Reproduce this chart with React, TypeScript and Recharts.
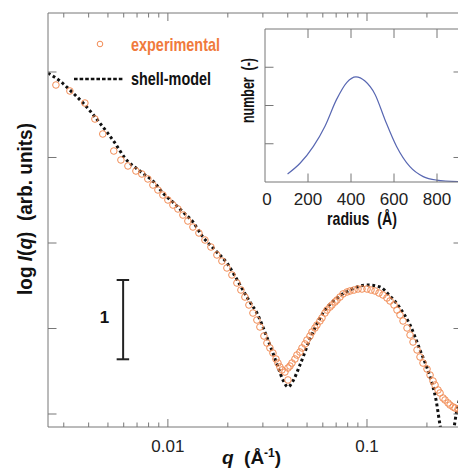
import React from "react";
import {
  ComposedChart,
  LineChart,
  Line,
  Scatter,
  XAxis,
  YAxis,
  ReferenceLine,
} from "recharts";

// ---------- data ----------
const expQ = [
  0.00274, 0.00322, 0.00383, 0.0043, 0.00471, 0.00535, 0.00581, 0.0063, 0.00691, 0.0074,
  0.00793, 0.00841, 0.00891, 0.00944, 0.01, 0.0106, 0.01123, 0.0119, 0.0126, 0.01336,
  0.01432, 0.01535, 0.01645, 0.01763, 0.01868, 0.01979, 0.02097, 0.02222, 0.02327, 0.02437,
  0.02553, 0.02674, 0.028, 0.02899, 0.03037, 0.03144, 0.03255, 0.0337, 0.03489, 0.03571,
  0.03654, 0.0374, 0.03872, 0.04009,
  0.04009, 0.04103, 0.04199, 0.04347, 0.04448, 0.04605, 0.04714, 0.0488, 0.04995, 0.05171,
  0.05292, 0.05479, 0.05606, 0.05805, 0.0594, 0.0615, 0.06295, 0.06517, 0.06669, 0.06905,
  0.07066, 0.07316, 0.07574, 0.07933, 0.08213, 0.08602, 0.0901, 0.09437, 0.1, 0.1047,
  0.1097, 0.1149, 0.1203, 0.126, 0.1305, 0.1367, 0.1415, 0.1465, 0.1517, 0.1589,
  0.1645, 0.1703, 0.1784, 0.1846, 0.1911, 0.2002, 0.2073, 0.2146, 0.2196, 0.2274,
  0.2327, 0.2409, 0.2466, 0.2553, 0.2613, 0.2705, 0.2768, 0.2866, 0.2968,
];
const expLogI = [
  3.848, 3.778, 3.637, 3.45, 3.275, 3.076, 2.971, 2.901, 2.842, 2.807,
  2.749, 2.678, 2.62, 2.561, 2.503, 2.444, 2.398, 2.327, 2.257, 2.187,
  2.117, 2.035, 1.953, 1.86, 1.789, 1.708, 1.626, 1.532, 1.45, 1.368,
  1.275, 1.181, 1.099, 1.018, 0.912, 0.83, 0.772, 0.713, 0.643, 0.596,
  0.55, 0.515, 0.491, 0.398,
  0.538, 0.561, 0.596, 0.643, 0.69, 0.725, 0.772, 0.819, 0.865, 0.912,
  0.959, 1.006, 1.041, 1.088, 1.123, 1.181, 1.216, 1.251, 1.275, 1.31,
  1.333, 1.368, 1.404, 1.427, 1.439, 1.45, 1.462, 1.462, 1.462, 1.45,
  1.439, 1.415, 1.392, 1.357, 1.322, 1.275, 1.216, 1.158, 1.088, 1.006,
  0.924, 0.842, 0.749, 0.667, 0.596, 0.526, 0.456, 0.386, 0.339, 0.281,
  0.246, 0.187, 0.164, 0.129, 0.105, 0.082, 0.07, 0.058, 0.047,
];

const modelQ = [
  0.0025, 0.00287, 0.00322, 0.00383, 0.00455, 0.00542, 0.00608, 0.00723, 0.0086, 0.00944,
  0.01084, 0.0119, 0.01336, 0.015, 0.01723, 0.01979, 0.02171, 0.02382, 0.02583, 0.028,
  0.03002, 0.03181, 0.0337, 0.03571, 0.03784, 0.04009, 0.04247, 0.04605, 0.05171, 0.0601,
  0.07066, 0.08213, 0.1, 0.1162, 0.1305, 0.1465, 0.1645, 0.1846, 0.2073, 0.2222,
  0.2327, 0.2495, 0.2674, 0.28, 0.3,
];
const modelLogI = [
  3.988, 3.895, 3.789, 3.614, 3.404, 3.17, 2.994, 2.842, 2.702, 2.585,
  2.456, 2.363, 2.246, 2.07, 1.918, 1.766, 1.614, 1.45, 1.31, 1.181,
  1.018, 0.865, 0.713, 0.55, 0.398, 0.316, 0.386, 0.573, 0.877, 1.181,
  1.357, 1.45, 1.509, 1.485, 1.38, 1.24, 1.041, 0.749, 0.433, 0.164,
  -0.129, -0.48, -0.304, -0.012, 0.281,
];

const qTicks = [
  0.003, 0.004, 0.005, 0.006, 0.007, 0.008, 0.009, 0.01,
  0.02, 0.03, 0.04, 0.05, 0.06, 0.07, 0.08, 0.09, 0.1, 0.2,
];
const qLabels = [0.01, 0.1];
const yTicks = [0, 1, 2, 3, 4];

const radius = [105, 163, 225, 279, 333, 380, 423, 465, 512, 558, 612, 674, 736, 798, 898, 1000];
const number = [0.21, 0.49, 0.93, 1.46, 2.16, 2.6, 2.75, 2.64, 2.29, 1.63, 0.93, 0.4, 0.14, 0.05, 0.01, 0.0];
const rTicks = [0, 200, 400, 600, 800];
const nTicks = [1, 2, 3];

// scale bar (one unit on the log I axis)
const barQ = 0.00596;
const barCapQ = [0.00553, 0.00639];
const barRange = [0.64, 1.567];

const expData = expQ.map((q, i) => ({ q, v: expLogI[i] }));
const modelData = modelQ.map((q, i) => ({ q, v: modelLogI[i] }));
const insetData = radius.map((r, i) => ({ r, n: number[i] }));

// ---------- styles ----------
const AXIS = "#777";
const ORANGE = "#f28c55";
const ORANGE_TXT = "#f07a3c";
const BLUE = "#5867b2";
const FONT = "'Liberation Sans', Arial, Helvetica, sans-serif";

const isMajor = (v: number) => qLabels.some((m) => Math.abs(m - v) < 1e-9);

const BottomTick = (p: any) => {
  const major = isMajor(p.payload.value);
  return (
    <g>
      <line x1={p.x} x2={p.x} y1={p.y} y2={p.y - (major ? 8 : 4.5)} stroke={AXIS} strokeWidth={1} />
      {major && (
        <text x={p.x} y={p.y + 25} textAnchor="middle" fontFamily={FONT} fontSize={17} fill="#222">
          {p.payload.value}
        </text>
      )}
    </g>
  );
};
const TopTick = (p: any) => {
  const major = isMajor(p.payload.value);
  return <line x1={p.x} x2={p.x} y1={p.y} y2={p.y + (major ? 8 : 4.5)} stroke={AXIS} strokeWidth={1} />;
};
const LeftTick = (p: any) => (
  <line x1={p.x} x2={p.x + 8.5} y1={p.y} y2={p.y} stroke={AXIS} strokeWidth={1} />
);
const RightTick = (p: any) => (
  <line x1={p.x} x2={p.x - 8.5} y1={p.y} y2={p.y} stroke={AXIS} strokeWidth={1} />
);

const InsetBottomTick = (p: any) => (
  <g>
    {p.payload.value !== 0 && (
      <line x1={p.x} x2={p.x} y1={p.y} y2={p.y - 8.5} stroke={AXIS} strokeWidth={1} />
    )}
    <text x={p.x + (p.payload.value === 0 ? 2 : 0)} y={p.y + 23} textAnchor="middle" fontFamily={FONT} fontSize={17} fill="#222">
      {p.payload.value}
    </text>
  </g>
);
const InsetTopTick = (p: any) =>
  p.payload.value === 0 ? <g /> : <line x1={p.x} x2={p.x} y1={p.y} y2={p.y + 9} stroke={AXIS} strokeWidth={1} />;
const InsetLeftTick = (p: any) => (
  <line x1={p.x} x2={p.x + 8.5} y1={p.y} y2={p.y} stroke={AXIS} strokeWidth={1} />
);

const Circle = (p: any) =>
  p.cx == null ? <g /> : <circle cx={p.cx} cy={p.cy} r={3.3} fill="none" stroke={ORANGE} strokeWidth={1} />;

export default function App() {
  return (
    <div
      style={{
        position: "fixed",
        left: 0,
        top: 0,
        width: 458,
        height: 475,
        overflow: "hidden",
        background: "#fff",
      }}
    >
      <div style={{ position: "absolute", left: 0, top: 0 }}>
        <ComposedChart width={470} height={475} margin={{ top: 0, right: 0, bottom: 0, left: 0 }}>
          <XAxis
            xAxisId="b"
            dataKey="q"
            type="number"
            scale="log"
            domain={[0.0025, 0.3]}
            allowDataOverflow
            ticks={qTicks}
            orientation="bottom"
            height={48}
            tickSize={0}
            tickMargin={0}
            tickLine={false}
            axisLine={{ stroke: AXIS }}
            tick={BottomTick}
            interval={0}
          />
          <XAxis
            xAxisId="t"
            dataKey="q"
            type="number"
            scale="log"
            domain={[0.0025, 0.3]}
            allowDataOverflow
            ticks={qTicks}
            orientation="top"
            height={13}
            tickSize={0}
            tickMargin={0}
            tickLine={false}
            axisLine={{ stroke: AXIS }}
            tick={TopTick}
            interval={0}
          />
          <YAxis
            yAxisId="l"
            dataKey="v"
            type="number"
            domain={[-0.152, 4.69]}
            allowDataOverflow
            ticks={yTicks}
            width={48}
            tickSize={0}
            tickMargin={0}
            tickLine={false}
            axisLine={{ stroke: AXIS }}
            tick={LeftTick}
            interval={0}
          />
          <YAxis
            yAxisId="r"
            dataKey="v"
            orientation="right"
            type="number"
            domain={[-0.152, 4.69]}
            allowDataOverflow
            ticks={yTicks}
            width={8}
            tickSize={0}
            tickMargin={0}
            tickLine={false}
            axisLine={{ stroke: AXIS }}
            tick={RightTick}
            interval={0}
          />
          <Scatter
            xAxisId="b"
            yAxisId="l"
            data={expData}
            dataKey="v"
            shape={Circle}
            isAnimationActive={false}
          />
          <Line
            xAxisId="b"
            yAxisId="l"
            data={modelData}
            dataKey="v"
            type="monotone"
            stroke="#111"
            strokeWidth={3}
            strokeDasharray="2.8 2.8"
            dot={false}
            activeDot={false}
            isAnimationActive={false}
          />
          <ReferenceLine
            xAxisId="b"
            yAxisId="l"
            segment={[{ x: barQ, y: barRange[0] }, { x: barQ, y: barRange[1] }]}
            stroke="#222"
            strokeWidth={2}
          />
          <ReferenceLine
            xAxisId="b"
            yAxisId="l"
            segment={[{ x: barCapQ[0], y: barRange[0] }, { x: barCapQ[1], y: barRange[0] }]}
            stroke="#222"
            strokeWidth={2}
          />
          <ReferenceLine
            xAxisId="b"
            yAxisId="l"
            segment={[{ x: barCapQ[0], y: barRange[1] }, { x: barCapQ[1], y: barRange[1] }]}
            stroke="#222"
            strokeWidth={2}
          />
        </ComposedChart>
      </div>

      <div style={{ position: "absolute", left: 0, top: 0 }}>
        <LineChart width={490} height={230} data={insetData} margin={{ top: 0, right: 10, bottom: 0, left: 240 }}>
          <XAxis
            xAxisId="b"
            dataKey="r"
            type="number"
            domain={[0, 1000]}
            allowDataOverflow
            ticks={rTicks}
            height={48}
            tickSize={0}
            tickMargin={0}
            tickLine={false}
            axisLine={{ stroke: AXIS }}
            tick={InsetBottomTick}
            interval={0}
          />
          <XAxis
            xAxisId="t"
            dataKey="r"
            orientation="top"
            type="number"
            domain={[0, 1000]}
            allowDataOverflow
            ticks={rTicks}
            height={29}
            tickSize={0}
            tickMargin={0}
            tickLine={false}
            axisLine={{ stroke: AXIS }}
            tick={InsetTopTick}
            interval={0}
          />
          <YAxis
            dataKey="n"
            type="number"
            domain={[0, 4]}
            allowDataOverflow
            ticks={nTicks}
            width={25}
            tickSize={0}
            tickMargin={0}
            tickLine={false}
            axisLine={{ stroke: AXIS }}
            tick={InsetLeftTick}
            interval={0}
          />
          <Line
            xAxisId="b"
            dataKey="n"
            type="monotone"
            stroke={BLUE}
            strokeWidth={1.2}
            dot={false}
            activeDot={false}
            isAnimationActive={false}
          />
        </LineChart>
      </div>

      <svg
        width={458}
        height={475}
        style={{ position: "absolute", left: 0, top: 0, pointerEvents: "none" }}
        fontFamily={FONT}
      >
        {/* legend */}
        <circle cx={100} cy={44} r={2.8} fill="none" stroke={ORANGE} strokeWidth={1} />
        <text x={131} y={50.5} fontSize={19} fontWeight="bold" fill={ORANGE_TXT} textLength={89} lengthAdjust="spacingAndGlyphs">
          experimental
        </text>
        <line x1={74} x2={124} y1={79} y2={79} stroke="#111" strokeWidth={2.6} strokeDasharray="3.6 2" />
        <text x={131} y={85} fontSize={19} fontWeight="bold" fill="#111" textLength={80} lengthAdjust="spacingAndGlyphs">
          shell-model
        </text>

        {/* scale bar label */}
        <text x={104.5} y={323} fontSize={17} fontWeight="bold" fill="#111" textAnchor="middle">
          1
        </text>

        {/* main axis titles */}
        <text
          transform="translate(32,209) rotate(-90)"
          textAnchor="middle"
          fontSize={19.5}
          fontWeight="bold"
          fill="#111"
          textLength={172}
          lengthAdjust="spacingAndGlyphs"
          style={{ whiteSpace: "pre" }}
        >
          <tspan>log </tspan>
          <tspan fontStyle="italic">I</tspan>
          <tspan>(</tspan>
          <tspan fontStyle="italic">q</tspan>
          <tspan>)  (arb. units)</tspan>
        </text>
        <text x={251.5} y={464} textAnchor="middle" fontSize={19} fontWeight="bold" fill="#111" style={{ whiteSpace: "pre" }}>
          <tspan fontStyle="italic">q</tspan>
          <tspan>  (Å</tspan>
          <tspan fontSize={12} dy={-7}>-1</tspan>
          <tspan dy={7}>)</tspan>
        </text>

        {/* inset axis titles */}
        <text
          transform="translate(254,90.5) rotate(-90)"
          textAnchor="middle"
          fontSize={19}
          fontWeight="bold"
          fill="#111"
          textLength={65}
          lengthAdjust="spacingAndGlyphs"
          style={{ whiteSpace: "pre" }}
        >
          number  (-)
        </text>
        <text
          x={362}
          y={225}
          textAnchor="middle"
          fontSize={19}
          fontWeight="bold"
          fill="#111"
          textLength={70}
          lengthAdjust="spacingAndGlyphs"
          style={{ whiteSpace: "pre" }}
        >
          radius  (Å)
        </text>
      </svg>
    </div>
  );
}
